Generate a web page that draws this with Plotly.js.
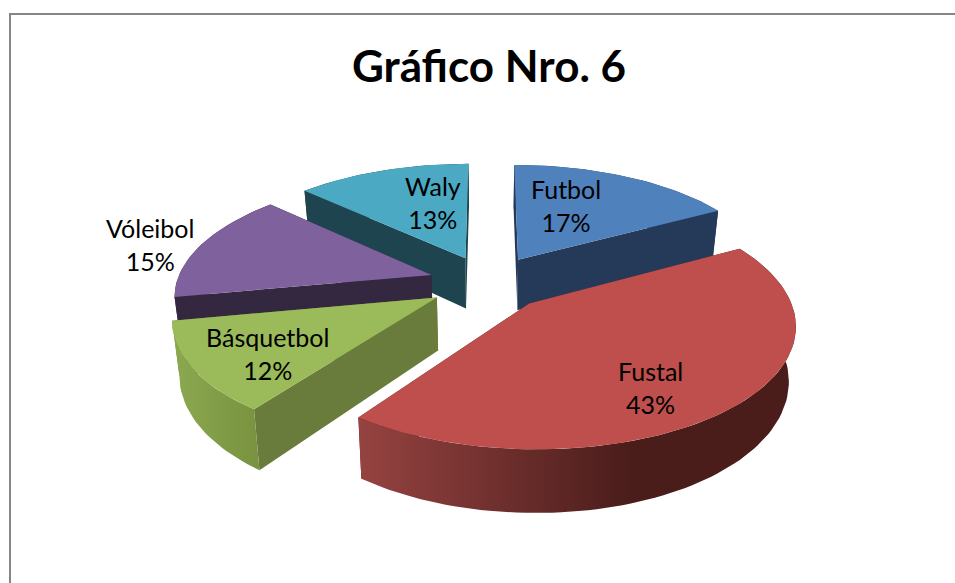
<!DOCTYPE html>
<html><head><meta charset="utf-8">
<script src="https://cdn.plot.ly/plotly-3.0.1.min.js"></script>
<style>html,body{margin:0;padding:0;background:#fff}#c{width:955px;height:583px}</style>
</head><body><div id="c"></div>
<script>
const chartTitle = 'Gráfico Nro. 6';
const categories = ['Futbol','Fustal','Básquetbol','Vóleibol','Waly'];
const values = [17,43,12,15,13];
const topColors = ['#4F81BD','#BE4F4C','#9BBA59','#7F619D','#4BA9C3'];
const cutColors = ['#253A59','#4A1E1C','#6A7C3B','#332840','#1E454F'];
const rimScales = [
  [[0,'#253A59'],[1,'#253A59']],
  [[0,'#964341'],[0.62,'#4A1D1B'],[1,'#4A1D1B']],
  [[0,'#8CA950'],[1,'#78923F']],
  [[0,'#332840'],[1,'#332840']],
  [[0,'#1E454F'],[1,'#1E454F']]
];
const labelX = [566,650,267,150,433];
const labelY = [205,387,353,244,202];
const drawOrder = [4,0,3,2,1];

// projection of the tilted disc
const view = {cx:488.5, cy:282.5, A:255, B:116, k:0.155, explode:0.235, depth:52, shrink:0.977};
function project(X,Y,low){
  const d = 1+view.k*Y;
  const s = low ? view.shrink : 1;
  return [view.cx+s*view.A*X/d, view.cy-view.B*Y/d+(low?view.depth/d:0)];
}
const total = values.reduce((a,b)=>a+b,0);
const traces = [];
function poly(pts,color,grad){
  const t = {type:'scatter',mode:'lines',x:pts.map(p=>p[0]),y:pts.map(p=>p[1]),
    fill:'toself',line:{width:0,color:color},fillcolor:color,hoverinfo:'skip',showlegend:false};
  if(grad) t.fillgradient = {type:'horizontal',colorscale:grad};
  traces.push(t);
}
const starts = []; let acc = 0;
values.forEach(v=>{starts.push(acc); acc+=v;});
drawOrder.forEach(i=>{
  const a0 = starts[i]/total*2*Math.PI, a1 = (starts[i]+values[i])/total*2*Math.PI, m=(a0+a1)/2;
  const ox = view.explode*Math.sin(m), oy = view.explode*Math.cos(m);
  const rim = [];
  const n = Math.ceil((a1-a0)/0.03);
  for(let j=0;j<=n;j++){const a=a0+(a1-a0)*j/n; rim.push([ox+Math.sin(a),oy+Math.cos(a)]);}
  const apex = [ox,oy];
  const up = p=>project(p[0],p[1],false), lo = p=>project(p[0],p[1],true);
  const first = rim[0], last = rim[rim.length-1];
  poly([up(apex),up(first),lo(first),lo(apex),up(apex)],cutColors[i]);
  poly([up(apex),up(last),lo(last),lo(apex),up(apex)],cutColors[i]);
  const wall = rim.map(up).concat(rim.slice().reverse().map(lo));
  wall.push(wall[0]);
  poly(wall,rimScales[i][0][1],rimScales[i]);
  const face = [up(apex)].concat(rim.map(up)); face.push(up(apex));
  poly(face,topColors[i]);
});
const annotations = categories.map((c,i)=>({
  xref:'x',yref:'y',x:labelX[i],y:labelY[i],xanchor:'center',yanchor:'middle',showarrow:false,
  text:c+'<br>'+values[i]+'%',font:{family:'Lato, "Noto Sans", sans-serif',size:25,color:'#000'}
}));
const layout = {
  width:955,height:583,margin:{l:0,r:0,t:0,b:0},paper_bgcolor:'#fff',plot_bgcolor:'#fff',showlegend:false,
  title:{text:'<b>'+chartTitle+'</b>',x:489/955,xanchor:'center',y:1-67/583,yanchor:'middle',
    font:{family:'Lato, "Noto Sans", sans-serif',size:44,color:'#000'}},
  xaxis:{range:[0,955],visible:false,fixedrange:true},
  yaxis:{range:[583,0],visible:false,fixedrange:true},
  shapes:[{type:'path',xref:'x',yref:'y',path:'M10,583 L10,14 L955,14',line:{color:'#868686',width:2}}],
  annotations:annotations
};
Plotly.newPlot('c',traces,layout,{displayModeBar:false,staticPlot:true});
</script></body></html>
